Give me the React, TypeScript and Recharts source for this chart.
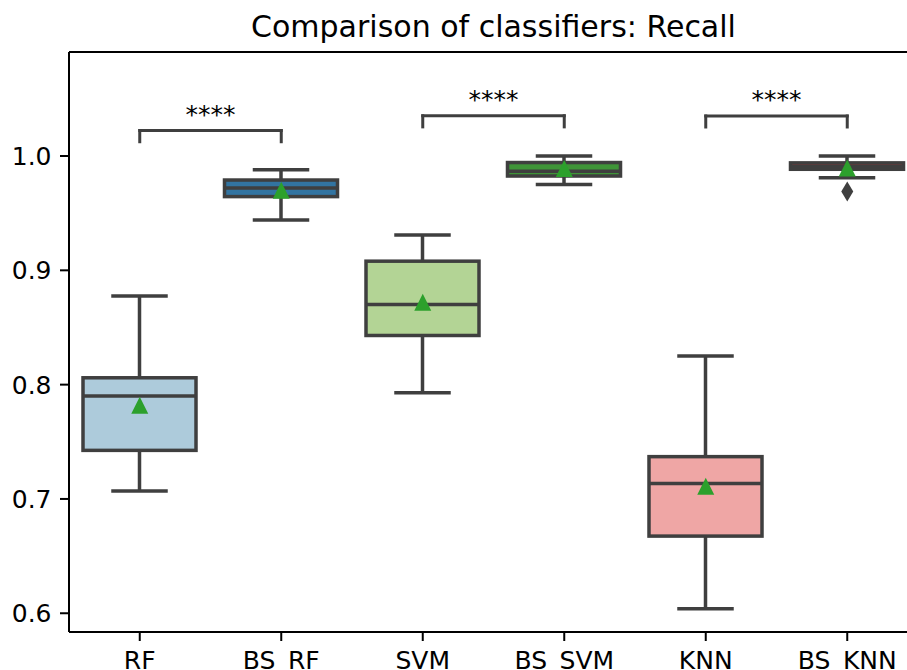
import React from 'react';
import { ComposedChart, Bar, Scatter, XAxis, YAxis, ReferenceLine } from 'recharts';

const classifiers = ['RF', 'BS_RF', 'SVM', 'BS_SVM', 'KNN', 'BS_KNN'];
const whiskerLow = [0.707, 0.944, 0.793, 0.975, 0.604, 0.981];
const q1 = [0.7425, 0.9645, 0.843, 0.9825, 0.6675, 0.9884];
const median = [0.79, 0.972, 0.87, 0.9866, 0.7136, 0.991];
const q3 = [0.806, 0.979, 0.908, 0.9943, 0.737, 0.994];
const whiskerHigh = [0.8775, 0.988, 0.931, 1.0, 0.825, 1.0];
const means = [0.782, 0.97, 0.872, 0.989, 0.711, 0.9895];
const outliers = [null, null, null, null, null, 0.969];

const yTicks = [0.6, 0.7, 0.8, 0.9, 1.0];

// significance brackets (statannotations style)
const bracketFrom = ['RF', 'SVM', 'KNN'];
const bracketTo = ['BS_RF', 'BS_SVM', 'BS_KNN'];
const bracketTop = [1.0223, 1.0352, 1.035];
const bracketTip = [1.0125, 1.0255, 1.0254];
const bracketLabels = ['****', '****', '****'];

const boxColors = ['#adcbdb', '#3274a1', '#b3d495', '#3f9438', '#efa6a5', '#ca3335'];
const GRAY = '#3f3f3f';
const FONT = '"DejaVu Sans", sans-serif';
const LW = 3.5;

const data = classifiers.map((name, i) => ({
  name,
  whisker: [whiskerLow[i], whiskerHigh[i]],
  lo: whiskerLow[i],
  hi: whiskerHigh[i],
  q1: q1[i],
  q3: q3[i],
  median: median[i],
  mean: means[i],
  outlier: outliers[i],
  color: boxColors[i],
}));

function BoxShape(props: any) {
  const { x, y, width, height, payload } = props;
  if (!payload || height == null) return null;
  const { lo, hi } = payload;
  // linear y scale: map values within the whisker range bar
  const py = (v: number) => y + (height * (hi - v)) / (hi - lo);
  const cx = x + width / 2;
  const capHalf = width / 4;
  const top = py(payload.q3);
  const bottom = py(payload.q1);
  const med = py(payload.median);
  return (
    <g>
      <line x1={cx} x2={cx} y1={py(hi)} y2={top} stroke={GRAY} strokeWidth={LW} />
      <line x1={cx} x2={cx} y1={bottom} y2={py(lo)} stroke={GRAY} strokeWidth={LW} />
      <line x1={cx - capHalf} x2={cx + capHalf} y1={py(hi)} y2={py(hi)} stroke={GRAY} strokeWidth={LW} />
      <line x1={cx - capHalf} x2={cx + capHalf} y1={py(lo)} y2={py(lo)} stroke={GRAY} strokeWidth={LW} />
      <rect
        x={x}
        y={top}
        width={width}
        height={bottom - top}
        fill={payload.color}
        stroke={GRAY}
        strokeWidth={LW}
      />
      <line x1={x} x2={x + width} y1={med} y2={med} stroke={GRAY} strokeWidth={LW} />
    </g>
  );
}

function MeanMarker(props: any) {
  const { cx, cy } = props;
  if (cx == null || cy == null || isNaN(cy)) return null;
  const s = 8.5;
  return <polygon points={`${cx},${cy - s} ${cx - s},${cy + s} ${cx + s},${cy + s}`} fill="#2ca02c" />;
}

function OutlierMarker(props: any) {
  const { cx, cy, payload } = props;
  if (!payload || payload.outlier == null || cy == null || isNaN(cy)) return null;
  const w = 6;
  const h = 10;
  return <polygon points={`${cx},${cy - h} ${cx + w},${cy} ${cx},${cy + h} ${cx - w},${cy}`} fill={GRAY} />;
}

export default function App() {
  const yMin = 0.5836;
  const yMax = 1.091;
  return (
    <div
      style={{
        position: 'absolute',
        left: 0,
        top: 0,
        width: 907,
        height: 670,
        overflow: 'hidden',
        background: '#fff',
        fontFamily: FONT,
      }}
    >
      <div
        style={{
          position: 'absolute',
          left: 69,
          width: 849,
          top: 11.6,
          textAlign: 'center',
          fontSize: 30,
          lineHeight: '30px',
          color: '#000',
        }}
      >
        Comparison of classifiers: Recall
      </div>
      <ComposedChart
        width={930}
        height={670}
        data={data}
        margin={{ top: 52, right: 12, left: 0, bottom: 0 }}
      >
        <XAxis
          dataKey="name"
          interval={0}
          height={38}
          tickSize={9}
          tickMargin={10}
          tick={{ fontSize: 25, fill: '#000', fontFamily: FONT }}
          tickLine={{ stroke: '#000', strokeWidth: 2 }}
          axisLine={{ stroke: '#000', strokeWidth: 2 }}
        />
        <YAxis
          type="number"
          domain={[yMin, yMax]}
          ticks={yTicks}
          width={69}
          tickSize={9}
          tickMargin={8.5}
          tickFormatter={(v: number) => v.toFixed(1)}
          tick={{ fontSize: 25, fill: '#000', fontFamily: FONT }}
          tickLine={{ stroke: '#000', strokeWidth: 2 }}
          axisLine={{ stroke: '#000', strokeWidth: 2 }}
          allowDataOverflow
        />
        <ReferenceLine y={yMax} stroke="#000" strokeWidth={2} />
        <Bar dataKey="whisker" barSize={113} shape={<BoxShape />} isAnimationActive={false} />
        <Scatter dataKey="mean" shape={<MeanMarker />} isAnimationActive={false} />
        <Scatter dataKey="outlier" shape={<OutlierMarker />} isAnimationActive={false} />
        {bracketFrom.map((from, i) => (
          <ReferenceLine
            key={`h${i}`}
            segment={[
              { x: from, y: bracketTop[i] },
              { x: bracketTo[i], y: bracketTop[i] },
            ]}
            stroke={GRAY}
            strokeWidth={3}
            strokeLinecap="square"
            label={{
              value: bracketLabels[i],
              position: 'top',
              offset: 8,
              fill: '#000',
              fontSize: 25,
              fontFamily: FONT,
            }}
          />
        ))}
        {bracketFrom.map((from, i) => (
          <ReferenceLine
            key={`l${i}`}
            segment={[
              { x: from, y: bracketTip[i] },
              { x: from, y: bracketTop[i] },
            ]}
            stroke={GRAY}
            strokeWidth={3}
            strokeLinecap="square"
          />
        ))}
        {bracketTo.map((to, i) => (
          <ReferenceLine
            key={`r${i}`}
            segment={[
              { x: to, y: bracketTip[i] },
              { x: to, y: bracketTop[i] },
            ]}
            stroke={GRAY}
            strokeWidth={3}
            strokeLinecap="square"
          />
        ))}
      </ComposedChart>
    </div>
  );
}
